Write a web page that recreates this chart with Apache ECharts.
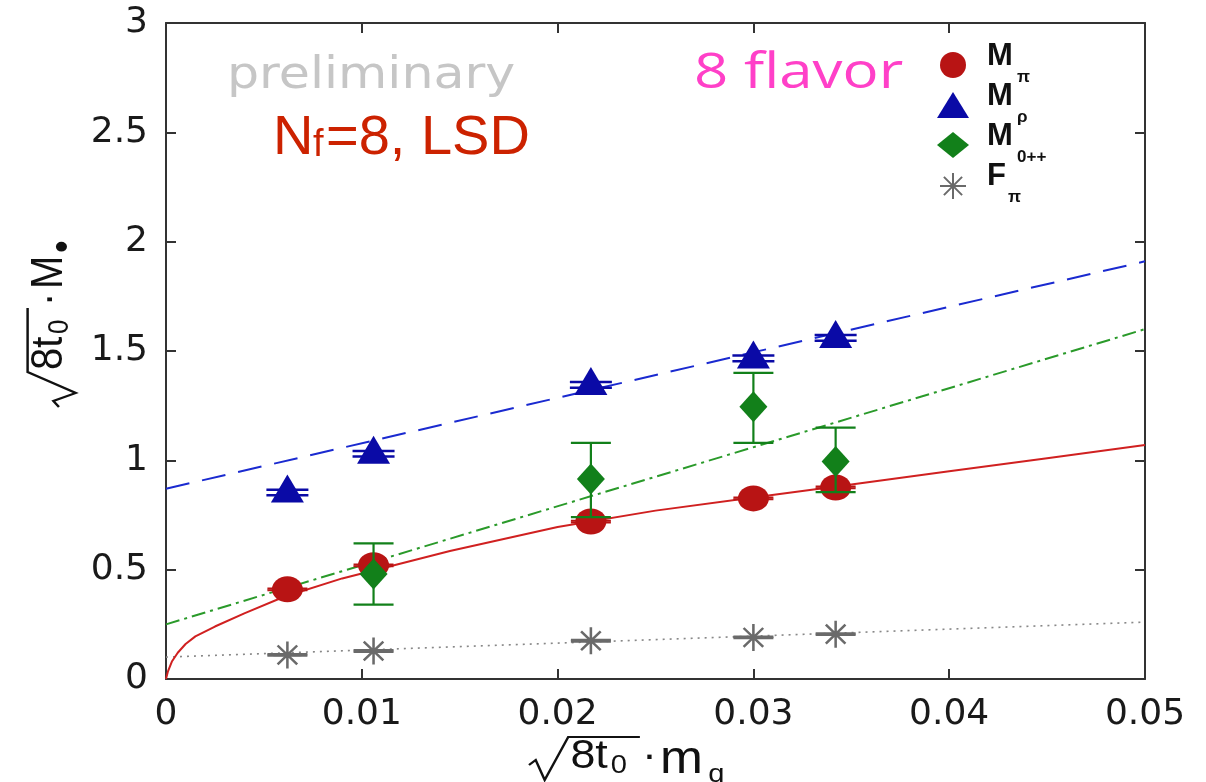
<!DOCTYPE html>
<html>
<head>
<meta charset="utf-8">
<script src="https://cdn.jsdelivr.net/npm/echarts@6/dist/echarts.min.js"></script>
<style>
html,body{margin:0;padding:0;background:#fff;}
#chart{width:1206px;height:782px;}
</style>
</head>
<body>
<div id="chart"></div>
<script>
// ---- data ----
const xTickLabels = ['0', '0.01', '0.02', '0.03', '0.04', '0.05'];
const yTickLabels = ['0', '0.5', '1', '1.5', '2', '2.5', '3'];

const mq = [0.0062, 0.0106, 0.0217, 0.0300, 0.0342];
const Mpi = [0.41, 0.52, 0.72, 0.826, 0.876];
const MpiErr = [0.004, 0.004, 0.004, 0.004, 0.004];
const Mrho = [0.853, 1.03, 1.345, 1.466, 1.56];
const MrhoErr = [0.013, 0.013, 0.013, 0.013, 0.013];
const mq0pp = [0.0106, 0.0217, 0.0300, 0.0342];
const M0pp = [0.48, 0.915, 1.245, 0.995];
const M0ppLow = [0.34, 0.74, 1.08, 0.855];
const M0ppHigh = [0.62, 1.08, 1.40, 1.15];
const Fpi = [0.11, 0.128, 0.175, 0.19, 0.205];
const FpiErr = [0.003, 0.003, 0.003, 0.003, 0.003];

const fitEndsX = [0, 0.05];
const rhoFit = [0.87, 1.91];
const zeroFit = [0.25, 1.60];
const fpiFit = [0.10, 0.26];
const piFitX = [0, 0.0001, 0.0003, 0.0006, 0.001, 0.0015, 0.0025, 0.004, 0.006, 0.009, 0.0145, 0.02, 0.025, 0.03, 0.035, 0.04, 0.045, 0.05];
const piFit = [0, 0.035, 0.08, 0.12, 0.16, 0.195, 0.24, 0.30, 0.375, 0.46, 0.585, 0.695, 0.77, 0.83, 0.89, 0.95, 1.01, 1.07];

const names = ['Mπ', 'Mρ', 'M0++', 'Fπ'];
const legendMain = ['M', 'M', 'M', 'F'];
const legendSub = ['π', 'ρ', '0++', 'π'];

// ---- helpers ----
const zip = (xs, ys) => xs.map((x, i) => [x, ys[i]]);
const errData = (xs, ys, es) => xs.map((x, i) => [x, ys[i] - es[i], ys[i] + es[i]]);
const errData2 = (xs, lo, hi) => xs.map((x, i) => [x, lo[i], hi[i]]);

function errRender(color, halfW, lw) {
  return function (params, api) {
    const x = api.value(0), lo = api.value(1), hi = api.value(2);
    const p1 = api.coord([x, lo]), p2 = api.coord([x, hi]);
    const st = {stroke: color, lineWidth: lw};
    return {type: 'group', children: [
      {type: 'line', shape: {x1: p1[0], y1: p1[1], x2: p2[0], y2: p2[1]}, style: st},
      {type: 'line', shape: {x1: p1[0] - halfW, y1: p1[1], x2: p1[0] + halfW, y2: p1[1]}, style: st},
      {type: 'line', shape: {x1: p2[0] - halfW, y1: p2[1], x2: p2[0] + halfW, y2: p2[1]}, style: st}
    ]};
  };
}

const starPath = 'path://M0,10 L20,10 M10,0 L10,20 M3,3 L17,17 M17,3 L3,17';

const C_RED = '#b81414', C_BLUE = '#0a0aa6', C_GREEN = '#12801a', C_GREY = '#6a6a6a';

const axisLine = {show: true, onZero: false, lineStyle: {color: '#333', width: 2}};
const tick = (show) => ({show: show, inside: true, length: 10, lineStyle: {color: '#333', width: 2}});
const labelFont = {fontFamily: 'DejaVu Sans', fontSize: 36, color: '#1a1a1a'};

// ---- axis titles built as graphic groups ----
function titleChildren(main, mainFont, mainX, mainY, sub, subFont, subX, subY) {
  const f = 'Liberation Sans';
  return [
    {type: 'polyline', shape: {points: [[0, 8], [6, 3], [14, 23], [35, -20], [99, -20]]}, style: {stroke: '#111', lineWidth: 2.2, fill: null}},
    {type: 'text', x: 37, y: 0, style: {text: '8t', font: '40px ' + f, fill: '#111', verticalAlign: 'middle'}},
    {type: 'text', x: 73, y: 9, style: {text: '0', font: '26px ' + f, fill: '#111', verticalAlign: 'middle'}},
    {type: 'text', x: 101, y: 0, style: {text: '·', font: '40px ' + f, fill: '#111', verticalAlign: 'middle'}},
    {type: 'text', x: mainX, y: mainY, style: {text: main, font: mainFont + 'px ' + f, fill: '#111', verticalAlign: 'middle'}},
    {type: 'text', x: subX, y: subY, style: {text: sub, font: subFont + 'px ' + f, fill: '#111', verticalAlign: 'middle'}}
  ];
}

// legend labels (main letter + subscript)
const legendRowsY = [65, 105, 145, 185];
const legendSubX = [1017, 1017, 1017, 1008];
const legendText = [];
legendMain.forEach((t, i) => {
  legendText.push({type: 'text', x: 987, y: legendRowsY[i] - 9, style: {text: t, font: 'bold 31px Liberation Sans', fill: '#111', verticalAlign: 'middle'}});
  legendText.push({type: 'text', x: legendSubX[i], y: legendRowsY[i] + 12, style: {text: legendSub[i], font: 'bold 17px Liberation Sans', fill: '#111', verticalAlign: 'middle'}});
});

const chart = echarts.init(document.getElementById('chart'));
const option = {
  backgroundColor: '#ffffff',
  animation: false,
  grid: {left: 166, right: 61, top: 23, bottom: 103},
  xAxis: [
    {type: 'value', position: 'bottom', min: 0, max: 0.05, interval: 0.01,
     axisLine: axisLine, axisTick: tick(true), splitLine: {show: false},
     axisLabel: Object.assign({margin: 18, formatter: v => xTickLabels[Math.round(v / 0.01)]}, labelFont)},
    {type: 'value', position: 'top', min: 0, max: 0.05, interval: 0.01,
     axisLine: axisLine, axisTick: tick(true), splitLine: {show: false}, axisLabel: {show: false}}
  ],
  yAxis: [
    {type: 'value', position: 'left', min: 0, max: 3, interval: 0.5,
     axisLine: axisLine, axisTick: tick(true), splitLine: {show: false},
     axisLabel: Object.assign({margin: 18, formatter: v => yTickLabels[Math.round(v / 0.5)]}, labelFont)},
    {type: 'value', position: 'right', min: 0, max: 3, interval: 0.5,
     axisLine: axisLine, axisTick: tick(true), splitLine: {show: false}, axisLabel: {show: false}}
  ],
  legend: {
    data: names, orient: 'vertical', left: 932, top: 47, itemGap: 14,
    itemWidth: 32, itemHeight: 26,
    formatter: () => '',
    textStyle: {fontSize: 12}
  },
  series: [
    {name: 'fit rho', type: 'line', data: zip(fitEndsX, rhoFit), showSymbol: false, z: 1,
     lineStyle: {color: '#1a2ad0', width: 2, type: [24, 13]}},
    {name: 'fit 0pp', type: 'line', data: zip(fitEndsX, zeroFit), showSymbol: false, z: 1,
     lineStyle: {color: '#2a9a2a', width: 2, type: [14, 5, 3, 5]}},
    {name: 'fit F', type: 'line', data: zip(fitEndsX, fpiFit), showSymbol: false, z: 1,
     lineStyle: {color: '#888', width: 1.6, type: [2, 5]}},
    {name: 'fit pi', type: 'line', data: zip(piFitX, piFit), showSymbol: false, z: 1, smooth: false,
     lineStyle: {color: '#d02020', width: 2}},

    {name: 'Mπ', type: 'scatter', data: zip(mq, Mpi), symbol: 'circle', symbolSize: [31, 26], z: 3,
     itemStyle: {color: C_RED, opacity: 1}},
    {name: 'Mπ err', type: 'custom', data: errData(mq, Mpi, MpiErr), renderItem: errRender(C_RED, 20, 2), z: 3},

    {name: 'Mρ', type: 'scatter', data: zip(mq, Mrho), symbol: 'triangle', symbolSize: [33, 28], symbolOffset: [0, -4], z: 3,
     itemStyle: {color: C_BLUE, opacity: 1}},
    {name: 'Mρ err', type: 'custom', data: errData(mq, Mrho, MrhoErr), renderItem: errRender(C_BLUE, 21, 2.5), z: 3},

    {name: 'M0++', type: 'scatter', data: zip(mq0pp, M0pp), symbol: 'diamond', symbolSize: [28, 31], z: 4,
     itemStyle: {color: C_GREEN, opacity: 1}},
    {name: 'M0++ err', type: 'custom', data: errData2(mq0pp, M0ppLow, M0ppHigh), renderItem: errRender(C_GREEN, 20, 2.2), z: 4},

    {name: 'Fπ', type: 'scatter', data: zip(mq, Fpi), symbol: starPath, symbolSize: [28, 27], z: 4,
     itemStyle: {color: 'rgba(0,0,0,0)', borderColor: C_GREY, borderWidth: 2.5, opacity: 1}},
    {name: 'Fπ err', type: 'custom', data: errData(mq, Fpi, FpiErr), renderItem: errRender(C_GREY, 20, 2.5), z: 4}
  ],
  graphic: legendText.concat([
    {type: 'text', x: 227, y: 77, scaleX: 1.15, style: {text: 'preliminary', font: '44px DejaVu Sans', fill: '#c6c6c6', verticalAlign: 'middle'}},
    {type: 'text', x: 694, y: 74, scaleX: 1.2, style: {text: '8 flavor', font: '50px Open Sans', fill: '#ff40c8', verticalAlign: 'middle'}},
    {type: 'text', x: 273, y: 139, style: {text: 'N', font: '56px Liberation Sans', fill: '#cc2200', verticalAlign: 'middle'}},
    {type: 'text', x: 313, y: 146, style: {text: 'f', font: '38px Liberation Sans', fill: '#cc2200', verticalAlign: 'middle'}},
    {type: 'text', x: 326, y: 139, style: {text: '=8, LSD', font: '56px Liberation Sans', fill: '#cc2200', verticalAlign: 'middle'}},
    {type: 'group', x: 529, y: 757, scaleX: 1.12,
     children: titleChildren('m', 46, 117, 3, 'q', 26, 160, 18)},
    {type: 'group', x: 50, y: 407, rotation: Math.PI / 2, scaleY: 1.12,
     children: titleChildren('M', 40, 118, 0, '•', 36, 154, 12)}
  ])
};
chart.setOption(option);
</script>
</body>
</html>
